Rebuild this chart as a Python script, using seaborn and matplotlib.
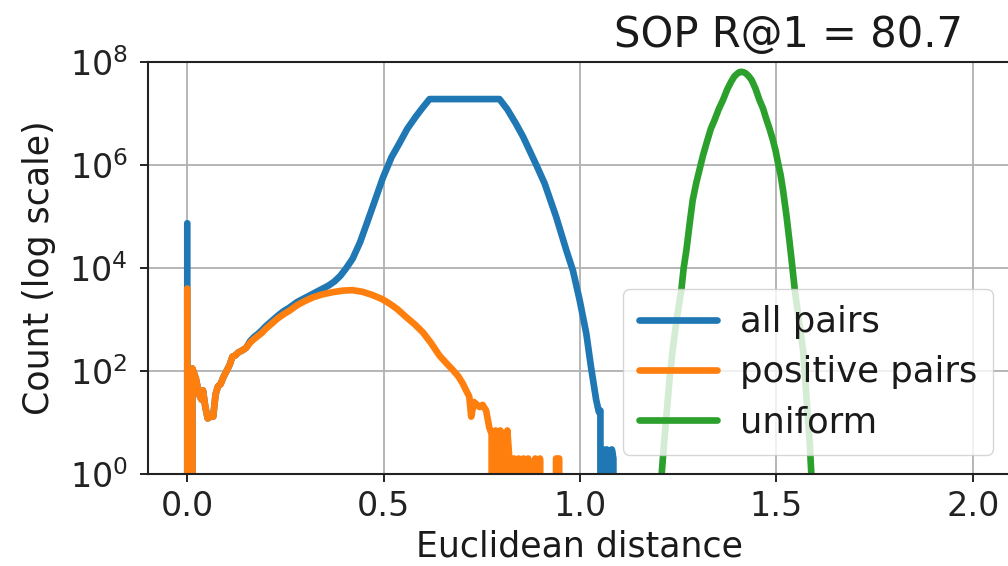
import matplotlib
matplotlib.use("Agg")
import matplotlib.pyplot as plt
from matplotlib.ticker import NullLocator
import pandas as pd
import seaborn as sns

# Histogram of pairwise Euclidean distances (bin position -> number of pairs)
all_pairs_dist = [
    0.000, 0.005, 0.013, 0.022, 0.030, 0.036, 0.040, 0.046, 0.052, 0.060,
    0.066, 0.072, 0.078, 0.085, 0.092, 0.100, 0.108, 0.115, 0.122, 0.130,
    0.140, 0.150, 0.160, 0.170, 0.180, 0.190, 0.200, 0.215, 0.230, 0.245,
    0.260, 0.280, 0.300, 0.320, 0.340, 0.360, 0.375, 0.390, 0.405, 0.421,
    0.440, 0.455, 0.475, 0.498, 0.520, 0.540, 0.560, 0.582, 0.600, 0.617,
    0.795, 0.815, 0.837, 0.855, 0.871, 0.890, 0.910, 0.939, 0.965, 0.982,
    0.999, 1.016, 1.028, 1.041, 1.048, 1.052, 1.055, 1.059, 1.064, 1.068,
    1.073, 1.077, 1.081, 1.085, 1.089,
]
all_pairs_count = [
    74000, 0, 112, 71, 35, 28, 42, 20, 12, 13,
    13, 35, 50, 56, 76, 100, 132, 190, 200, 229,
    251, 282, 380, 457, 525, 617, 741, 933, 1175, 1445,
    1698, 2188, 2630, 3162, 3802, 4571, 5495, 7079, 10000, 15136,
    31623, 66069, 177828, 562341, 1412538, 2630268, 5011872, 8709636, 13182567, 19054607,
    19054607, 12022644, 6309573, 3548134, 1949845, 954993, 436516, 100000, 22387, 8913,
    2399, 537, 120, 28, 16, 17, 0, 3, 0, 3,
    2, 0, 3, 2, 0,
]

pos_pairs_dist = [
    0.000, 0.005, 0.013, 0.022, 0.030, 0.036, 0.040, 0.046, 0.052, 0.060,
    0.066, 0.072, 0.078, 0.085, 0.092, 0.100, 0.108, 0.115, 0.122, 0.130,
    0.140, 0.150, 0.160, 0.170, 0.180, 0.190, 0.200, 0.215, 0.230, 0.245,
    0.260, 0.280, 0.300, 0.320, 0.345, 0.370, 0.395, 0.420, 0.445, 0.470,
    0.495, 0.515, 0.535, 0.557, 0.580, 0.600, 0.620, 0.642, 0.660, 0.676,
    0.690, 0.701, 0.710, 0.718, 0.723, 0.730, 0.744, 0.752, 0.761, 0.769,
    0.775, 0.780, 0.785, 0.791, 0.797, 0.803, 0.809, 0.815, 0.820, 0.826,
    0.832, 0.838, 0.844, 0.850, 0.856, 0.862, 0.868, 0.874, 0.880, 0.886,
    0.892, 0.898, 0.904, 0.935, 0.939, 0.947, 0.952, 1.000,
]
pos_pairs_count = [
    4000, 0, 112, 71, 35, 28, 42, 20, 12, 13,
    13, 35, 50, 56, 76, 100, 132, 190, 200, 229,
    251, 282, 355, 417, 479, 550, 661, 832, 1047, 1259,
    1479, 1905, 2291, 2692, 3090, 3388, 3631, 3715, 3467, 3020,
    2512, 2042, 1585, 1122, 794, 562, 355, 200, 141, 105,
    79, 58, 42, 32, 13, 25, 20, 22, 17, 8,
    6, 0, 7, 0, 7, 6, 0, 7, 2, 0,
    2, 0, 2, 0, 2, 0, 2, 1, 0, 2,
    0, 2, 0, 0, 2, 2, 0, 0,
]

uniform_dist = [
    1.200, 1.208, 1.214, 1.220, 1.228, 1.236, 1.247, 1.258, 1.264, 1.271,
    1.279, 1.287, 1.296, 1.304, 1.313, 1.322, 1.333, 1.343, 1.353, 1.364,
    1.375, 1.385, 1.393, 1.400, 1.405, 1.411, 1.417, 1.422, 1.429, 1.437,
    1.447, 1.457, 1.466, 1.474, 1.482, 1.491, 1.498, 1.504, 1.511, 1.517,
    1.526, 1.534, 1.541, 1.547, 1.557, 1.568, 1.574, 1.580, 1.585, 1.589,
    1.597,
]
uniform_count = [
    0, 1, 4, 13, 71, 257, 1122, 3715, 10000, 22387,
    70795, 208930, 446684, 794328, 1513561, 2630268, 5011872, 7585776, 12022644, 18197009,
    29512092, 41686938, 52480746, 58884366, 63095734, 64565423, 63095734, 60255959, 53703180, 44668359,
    30199517, 18197009, 12589254, 7943282, 5248075, 3090295, 1905461, 1122018, 630957, 323594,
    100000, 30200, 10000, 3715, 1000, 257, 63, 13, 4, 1,
    0,
]

series_names = ["all pairs", "positive pairs", "uniform"]
series_colors = ["#1f77b4", "#ff7f0e", "#2ca02c"]

df = pd.concat(
    [
        pd.DataFrame({"distance": all_pairs_dist, "count": all_pairs_count, "series": series_names[0]}),
        pd.DataFrame({"distance": pos_pairs_dist, "count": pos_pairs_count, "series": series_names[1]}),
        pd.DataFrame({"distance": uniform_dist, "count": uniform_count, "series": series_names[2]}),
    ],
    ignore_index=True,
)

sns.set_theme(
    style="ticks",
    rc={
        "axes.edgecolor": "#222222",
        "axes.linewidth": 1.5,
        "xtick.color": "#222222",
        "ytick.color": "#222222",
        "xtick.major.size": 5.5,
        "ytick.major.size": 5.5,
        "xtick.major.width": 1.4,
        "ytick.major.width": 1.4,
        "xtick.major.pad": 6,
        "ytick.major.pad": 9,
        "text.color": "#1a1a1a",
        "axes.labelcolor": "#1a1a1a",
    },
)
plt.rcParams["font.family"] = ["DejaVu Sans"]

W, H = 1008, 566
fig = plt.figure(figsize=(W / 100, H / 100), dpi=100)
ax = fig.add_axes([148 / W, 1 - 474 / H, 864 / W, 412 / H])

LW = 4.8
sns.lineplot(
    data=df, x="distance", y="count", hue="series",
    hue_order=series_names, palette=series_colors,
    estimator=None, sort=False, linewidth=LW, ax=ax,
)

ax.set_yscale("log")
ax.set_ylim(1, 1e8)
ax.set_xlim(-0.1, 2.1)
ax.set_yticks([1e0, 1e2, 1e4, 1e6, 1e8])
ax.yaxis.set_minor_locator(NullLocator())
ax.set_xticks([0.0, 0.5, 1.0, 1.5, 2.0])
ax.tick_params(axis="both", labelsize=24)
ax.grid(True, which="major", color="#b0b0b0", linewidth=1.3)

ax.set_xlabel("Euclidean distance", fontsize=25, labelpad=5)
ax.set_ylabel("Count (log scale)", fontsize=25, labelpad=10)

handles, labels = ax.get_legend_handles_labels()
leg = ax.legend(
    handles, labels, loc="lower right", bbox_to_anchor=(0.978, 0.046),
    borderaxespad=0, fontsize=25.5, framealpha=0.8, fancybox=True,
    edgecolor="0.8", handlelength=2.2, handletextpad=0.65, labelspacing=0.45,
    borderpad=0.45,
)
for line in leg.get_lines():
    line.set_linewidth(LW)

fig.text(963 / W, 1 - 47 / H, "SOP R@1 = 80.7", ha="right", va="baseline", fontsize=30)

fig.savefig("out.png", dpi=100)
